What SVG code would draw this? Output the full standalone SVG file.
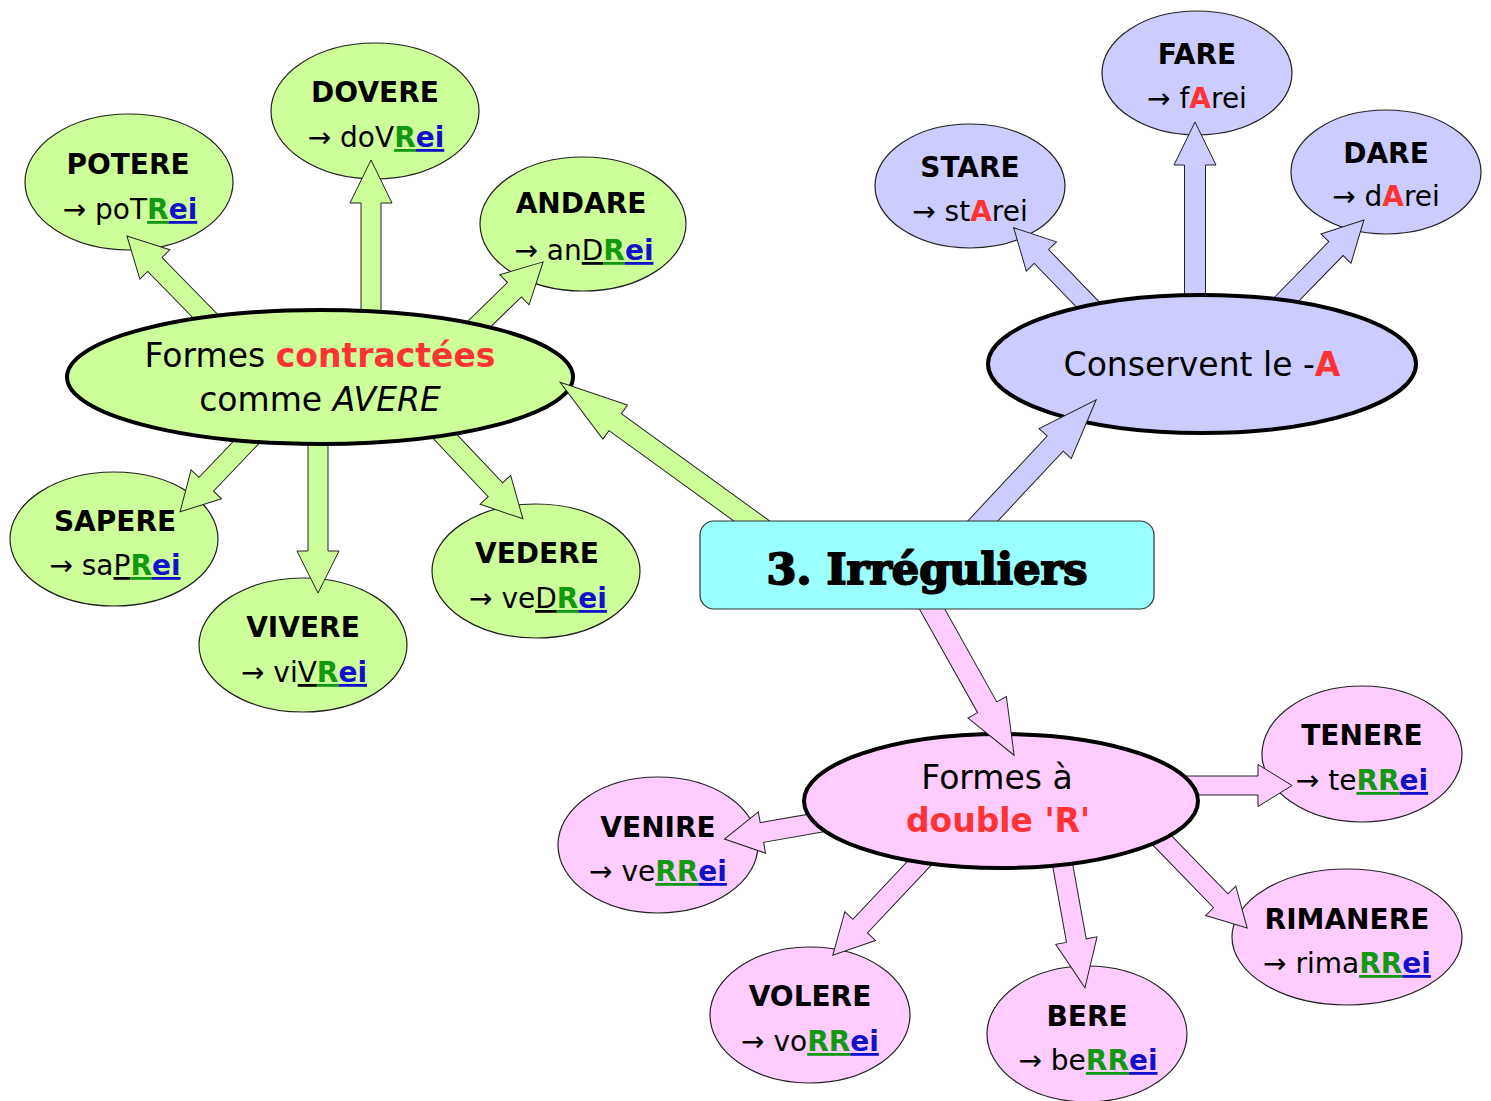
<svg xmlns="http://www.w3.org/2000/svg" width="1491" height="1101" viewBox="0 0 1491 1101">
<style>
.lg{fill:#ccff99;stroke:#222;stroke-width:1.2}
.lb{fill:#ccccff;stroke:#222;stroke-width:1.2}
.lp{fill:#ffccff;stroke:#222;stroke-width:1.2}
.mg{fill:#ccff99;stroke:#000;stroke-width:4}
.mb{fill:#ccccff;stroke:#000;stroke-width:4}
.mp{fill:#ffccff;stroke:#000;stroke-width:4}
.ag{fill:#ccff99;stroke:#222;stroke-width:1}
.ab{fill:#ccccff;stroke:#222;stroke-width:1}
.ap{fill:#ffccff;stroke:#222;stroke-width:1}
text{font-family:"DejaVu Sans",sans-serif;fill:#000;text-anchor:middle}
.nm{font-size:28px;font-weight:bold}
.l2{font-size:28px}
.mt{font-size:33px}
.g{fill:#119911;font-weight:bold;text-decoration:underline}
.b{fill:#1111cc;font-weight:bold;text-decoration:underline}
.u{text-decoration:underline}
.r{fill:#ff3333;font-weight:bold}
.ttl{font-family:"DejaVu Serif",serif;font-size:43px;font-weight:bold;stroke:#000;stroke-width:2;stroke-linejoin:round}
</style>

<!-- leaf nodes -->
<g id="potere"><ellipse class="lg" cx="129" cy="182" rx="104" ry="68"/><text class="nm" x="128" y="174">POTERE</text><text class="l2" x="130" y="219">→ poT<tspan class="g">R</tspan><tspan class="b">ei</tspan></text></g>
<g id="dovere"><ellipse class="lg" cx="375" cy="111" rx="104" ry="68"/><text class="nm" x="375" y="102">DOVERE</text><text class="l2" x="376" y="147">→ doV<tspan class="g">R</tspan><tspan class="b">ei</tspan></text></g>
<g id="andare"><ellipse class="lg" cx="583" cy="224" rx="103" ry="67"/><text class="nm" x="581" y="213">ANDARE</text><text class="l2" x="584" y="260">→ an<tspan class="u">D</tspan><tspan class="g">R</tspan><tspan class="b">ei</tspan></text></g>
<g id="sapere"><ellipse class="lg" cx="114" cy="539" rx="104" ry="67"/><text class="nm" x="115" y="531">SAPERE</text><text class="l2" x="115" y="575">→ sa<tspan class="u">P</tspan><tspan class="g">R</tspan><tspan class="b">ei</tspan></text></g>
<g id="vivere"><ellipse class="lg" cx="303" cy="645" rx="104" ry="67"/><text class="nm" x="303" y="637">VIVERE</text><text class="l2" x="304" y="682">→ vi<tspan class="u">V</tspan><tspan class="g">R</tspan><tspan class="b">ei</tspan></text></g>
<g id="vedere"><ellipse class="lg" cx="536" cy="571" rx="104" ry="67"/><text class="nm" x="537" y="563">VEDERE</text><text class="l2" x="538" y="608">→ ve<tspan class="u">D</tspan><tspan class="g">R</tspan><tspan class="b">ei</tspan></text></g>

<g id="stare"><ellipse class="lb" cx="970" cy="186" rx="95" ry="62"/><text class="nm" x="970" y="177">STARE</text><text class="l2" x="970" y="221">→ st<tspan class="r">A</tspan>rei</text></g>
<g id="fare"><ellipse class="lb" cx="1197" cy="73" rx="95" ry="62"/><text class="nm" x="1197" y="64">FARE</text><text class="l2" x="1197" y="108">→ f<tspan class="r">A</tspan>rei</text></g>
<g id="dare"><ellipse class="lb" cx="1386" cy="172" rx="95" ry="62"/><text class="nm" x="1386" y="163">DARE</text><text class="l2" x="1386" y="206">→ d<tspan class="r">A</tspan>rei</text></g>

<g id="tenere"><ellipse class="lp" cx="1362" cy="754" rx="100" ry="68"/><text class="nm" x="1362" y="745">TENERE</text><text class="l2" x="1362" y="790">→ te<tspan class="g">RR</tspan><tspan class="b">ei</tspan></text></g>
<g id="venire"><ellipse class="lp" cx="658" cy="845" rx="100" ry="68"/><text class="nm" x="658" y="837">VENIRE</text><text class="l2" x="658" y="881">→ ve<tspan class="g">RR</tspan><tspan class="b">ei</tspan></text></g>
<g id="volere"><ellipse class="lp" cx="810" cy="1015" rx="100" ry="68"/><text class="nm" x="810" y="1006">VOLERE</text><text class="l2" x="810" y="1051">→ vo<tspan class="g">RR</tspan><tspan class="b">ei</tspan></text></g>
<g id="bere"><ellipse class="lp" cx="1087" cy="1034" rx="100" ry="68"/><text class="nm" x="1087" y="1026">BERE</text><text class="l2" x="1088" y="1070">→ be<tspan class="g">RR</tspan><tspan class="b">ei</tspan></text></g>
<g id="rimanere"><ellipse class="lp" cx="1347" cy="937" rx="115" ry="68"/><text class="nm" x="1347" y="929">RIMANERE</text><text class="l2" x="1347" y="973">→ rima<tspan class="g">RR</tspan><tspan class="b">ei</tspan></text></g>

<!-- outer connectors -->
<g id="connectors-outer">
<path class="ag" transform="translate(215,326) rotate(-134.35)" d="M0,-10 H86 V-21 L126,0 L86,21 V10 H0 Z"/>
<path class="ag" transform="translate(371,325) rotate(-90)" d="M0,-10 H122 V-21 L165,0 L122,21 V10 H0 Z"/>
<path class="ag" transform="translate(470,333) rotate(-44.2)" d="M0,-10 H62 V-21 L102,0 L62,21 V10 H0 Z"/>
<path class="ag" transform="translate(258,430) rotate(133.6)" d="M0,-10 H75 V-21 L113,0 L75,21 V10 H0 Z"/>
<path class="ag" transform="translate(318,430) rotate(90)" d="M0,-10 H121 V-21 L163,0 L121,21 V10 H0 Z"/>
<path class="ag" transform="translate(437,428) rotate(46.6)" d="M0,-10 H85 V-21 L125,0 L85,21 V10 H0 Z"/>
<path class="ab" transform="translate(1097,314) rotate(-134)" d="M0,-10 H80 V-21 L120,0 L80,21 V10 H0 Z"/>
<path class="ab" transform="translate(1195,310) rotate(-90)" d="M0,-10.5 H145 V-21 L188,0 L145,21 V10.5 H0 Z"/>
<path class="ab" transform="translate(1278,308) rotate(-45.7)" d="M0,-10 H83 V-21 L123,0 L83,21 V10 H0 Z"/>
<path class="ap" transform="translate(1180,785.5)" d="M0,-9.5 H78 V-21 L112,0 L78,21 V9.5 H0 Z"/>
<path class="ap" transform="translate(822,822) rotate(170.1)" d="M0,-10 H61 V-21 L99,0 L61,21 V10 H0 Z"/>
<path class="ap" transform="translate(928,854) rotate(133.25)" d="M0,-10 H99 V-21 L139,0 L99,21 V10 H0 Z"/>
<path class="ap" transform="translate(1061,856) rotate(79.7)" d="M0,-10 H86 V-21 L134,0 L86,21 V10 H0 Z"/>
<path class="ap" transform="translate(1156,834) rotate(45.9)" d="M0,-10 H93 V-21 L131,0 L93,21 V10 H0 Z"/>
</g>

<!-- main nodes -->
<g id="contractees"><ellipse class="mg" cx="320" cy="377" rx="253" ry="67"/><text class="mt" x="320" y="367">Formes <tspan class="r">contractées</tspan></text><text class="mt" x="320" y="411">comme <tspan font-style="italic">AVERE</tspan></text></g>
<g id="conservent"><ellipse class="mb" cx="1202" cy="364" rx="214" ry="69"/><text class="mt" x="1202" y="376">Conservent le -<tspan class="r">A</tspan></text></g>
<g id="double"><ellipse class="mp" cx="1001" cy="801" rx="197" ry="67"/><text class="mt" x="997" y="789">Formes à</text><text class="mt r" x="998" y="832">double 'R'</text></g>

<!-- center connectors -->
<g id="connectors-center">
<path class="ag" transform="translate(778,540) rotate(-144.1)" d="M0,-10.5 H201 V-21 L269,0 L201,21 V10.5 H0 Z"/>
<path class="ab" transform="translate(965,540) rotate(-46.9)" d="M0,-11 H132 V-22 L192,0 L132,22 V11 H0 Z"/>
<path class="ap" transform="translate(927,600) rotate(60.7)" d="M0,-11 H123 V-22 L178,0 L123,22 V11 H0 Z"/>
</g>

<g id="center"><rect x="700" y="521" width="454" height="88" rx="14" fill="#99ffff" stroke="#333" stroke-width="1.2"/><text class="ttl" x="927" y="584">3. Irréguliers</text></g>
</svg>
